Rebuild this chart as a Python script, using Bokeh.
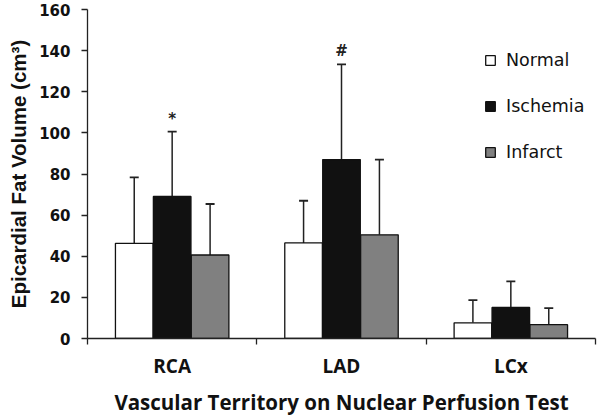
from bokeh.plotting import figure
from bokeh.models import (ColumnDataSource, FixedTicker, Range1d, Whisker, TeeHead,
                          Legend, LegendItem, LabelSet)
from bokeh.transform import dodge
from bokeh.core.properties import value
from bokeh.embed import file_html
from bokeh.resources import INLINE

# ---- data ----
territories = ["RCA", "LAD", "LCx"]
groups = ["Normal", "Ischemia", "Infarct"]
normal_mean = [46.3, 46.5, 7.6]
normal_upper = [78.4, 67.0, 18.7]
ischemia_mean = [69.1, 87.0, 15.1]
ischemia_upper = [100.6, 133.3, 27.8]
infarct_mean = [40.6, 50.4, 6.7]
infarct_upper = [65.4, 87.0, 14.8]
ischemia_marks = ["*", "#", ""]
y_ticks = [0, 20, 40, 60, 80, 100, 120, 140, 160]

centers = [i + 0.5 for i in range(len(territories))]
bounds = [float(i) for i in range(len(territories) + 1)]

src = ColumnDataSource(dict(
    x=centers,
    normal=normal_mean, normal_up=normal_upper,
    ischemia=ischemia_mean, ischemia_up=ischemia_upper,
    infarct=infarct_mean, infarct_up=infarct_upper,
    mark=ischemia_marks,
    mark_y=[u + 2 for u in ischemia_upper],
))

W, H = 600, 418
p = figure(width=W, height=H, output_backend="svg", toolbar_location=None,
           x_range=Range1d(0, 3), y_range=Range1d(0, 160),
           min_border_left=87, min_border_right=5, min_border_top=9,
           min_border_bottom=79)
p.grid.visible = False
p.outline_line_color = None
p.background_fill_color = "white"
p.border_fill_color = "white"

bw = 0.222
offs = [-0.224, 0.0, 0.224]
fills = ["#ffffff", "#111111", "#808080"]
keys = ["normal", "ischemia", "infarct"]
renderers = []
for k, off, fc in zip(keys, offs, fills):
    r = p.vbar(x=dodge("x", off, range=p.x_range), top=k, width=bw, bottom=0,
               source=src, fill_color=fc, line_color="#111111", line_width=1.3)
    renderers.append(r)
    w = Whisker(source=src, base=dodge("x", off, range=p.x_range), upper=k + "_up",
                lower=k, dimension="height", line_color="#222222", line_width=1.5,
                upper_head=TeeHead(size=9, line_color="#222222", line_width=1.8),
                lower_head=None)
    p.add_layout(w)

labels = LabelSet(x="x", y="mark_y", text="mark", source=src,
                  text_font=value("DejaVu Sans"), text_font_style="bold",
                  text_font_size="15px", text_color="#222222",
                  text_align="center", text_baseline="bottom")
p.add_layout(labels)

# y axis
ya = p.yaxis[0]
ya.ticker = FixedTicker(ticks=y_ticks)
ya.axis_line_color = "#222222"
ya.axis_line_width = 1.3
ya.major_tick_line_color = "#222222"
ya.major_tick_line_width = 1.3
ya.major_tick_out = 6
ya.major_tick_in = 0
ya.minor_tick_line_color = None
ya.major_label_standoff = 11
ya.major_label_text_font = "DejaVu Sans"
ya.major_label_text_font_style = "bold"
ya.major_label_text_font_size = "15px"
ya.major_label_text_color = "#111111"
ya.axis_label = "Epicardial Fat Volume (cm³)"
ya.axis_label_text_font = "Liberation Sans"
ya.axis_label_text_font_style = "bold"
ya.axis_label_text_font_size = "20.5px"
ya.axis_label_text_color = "#111111"
ya.axis_label_standoff = 6

# x axis
xa = p.xaxis[0]
xa.ticker = FixedTicker(ticks=centers, minor_ticks=bounds)
xa.major_label_overrides = {c: t for c, t in zip(centers, territories)}
xa.axis_line_color = "#222222"
xa.axis_line_width = 1.3
xa.major_tick_line_color = None
xa.major_tick_out = 0
xa.minor_tick_line_color = "#222222"
xa.minor_tick_line_width = 1.3
xa.minor_tick_out = 6
xa.minor_tick_in = 0
xa.major_label_standoff = 8
xa.major_label_text_font = "Open Sans"
xa.major_label_text_font_style = "bold"
xa.major_label_text_font_size = "19px"
xa.major_label_text_color = "#111111"
xa.axis_label = "Vascular Territory on Nuclear Perfusion Test"
xa.axis_label_text_font = "Open Sans"
xa.axis_label_text_font_style = "bold"
xa.axis_label_text_font_size = "20.5px"
xa.axis_label_text_color = "#111111"
xa.axis_label_standoff = 6

legend = Legend(items=[LegendItem(label=g, renderers=[r]) for g, r in zip(groups, renderers)],
                location=(397, 176), orientation="vertical",
                glyph_width=12, glyph_height=12, label_standoff=10,
                label_height=20, spacing=26, padding=0, margin=0,
                label_text_font="DejaVu Sans", label_text_font_size="17.5px",
                label_text_color="#111111",
                border_line_color=None, background_fill_alpha=0)
p.add_layout(legend)

open("out.html", "w").write(file_html(p, INLINE))
